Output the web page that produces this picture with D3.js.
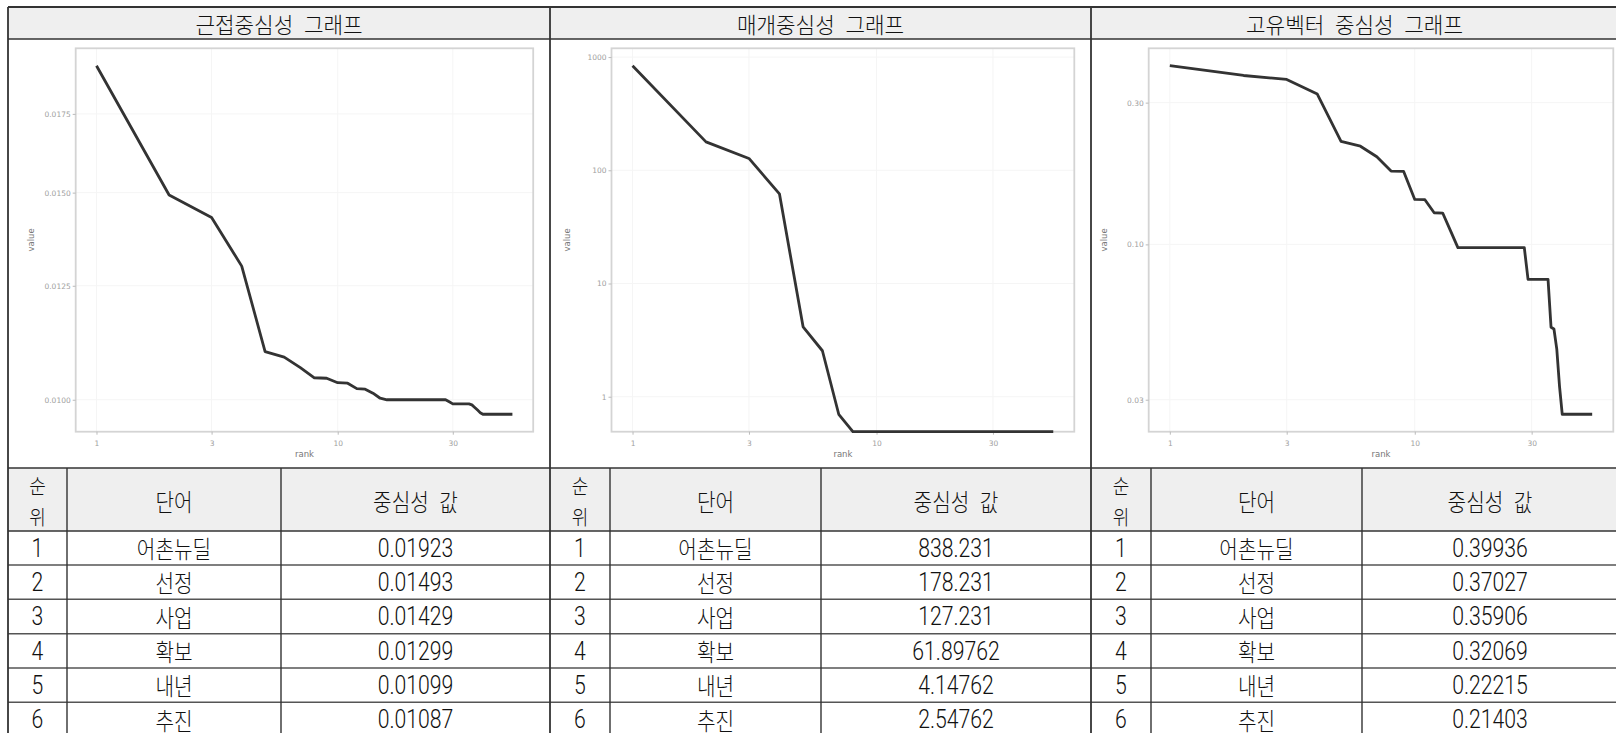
<!DOCTYPE html>
<html><head><meta charset="utf-8">
<script src="https://cdn.jsdelivr.net/npm/d3@7"></script>
<style>html,body{margin:0;padding:0;background:#fff;overflow:hidden}svg{display:block}</style>
</head><body><svg id="c" width="1616" height="733"></svg>
<script>
// ---------------- data ----------------
const ranks = d3.range(1, 54);
const closeness = [0.01923,0.01493,0.01429,0.01299,0.01099,0.01087,0.01065,0.01044,0.01043,0.01034,
  0.01033,0.01022,0.01021,0.01013,0.01003,0.01000,0.01000,0.01000,0.01000,0.01000,
  0.01000,0.01000,0.01000,0.01000,0.01000,0.01000,0.01000,0.01000,0.00996,0.00992,
  0.00992,0.00992,0.00992,0.00992,0.00992,0.00990,0.00985,0.00980,0.00975,0.00972,
  0.00972,0.00972,0.00972,0.00972,0.00972,0.00972,0.00972,0.00972,0.00972,0.00972,
  0.00972,0.00972,0.00972];
const betweenness = [838.231,178.231,127.231,61.89762,4.14762,2.54762,0.7,0,0,0,
  0,0,0,0,0,0,0,0,0,0, 0,0,0,0,0,0,0,0,0,0, 0,0,0,0,0,0,0,0,0,0,
  0,0,0,0,0,0,0,0,0,0, 0,0,0];
const eigenvector = [0.39936,0.37027,0.35906,0.32069,0.22215,0.21403,0.1973,0.1765,0.1762,0.1417,
  0.1414,0.1278,0.1275,0.1110,0.0975,0.0975,0.0975,0.0975,0.0975,0.0975,
  0.0975,0.0975,0.0975,0.0975,0.0975,0.0975,0.0975,0.0975,0.0762,0.0762,
  0.0762,0.0762,0.0762,0.0762,0.0762,0.0526,0.0519,0.0444,0.0332,0.0268,
  0.0268,0.0268,0.0268,0.0268,0.0268,0.0268,0.0268,0.0268,0.0268,0.0268,
  0.0268,0.0268,0.0268];
const words = ["어촌뉴딜","선정","사업","확보","내년","추진"];
const tableRanks = [1,2,3,4,5,6];
const panelTitles = ["근접중심성 그래프","매개중심성 그래프","고유벡터 중심성 그래프"];
const headerLabels = [["순","위"],["단어"],["중심성 값"]];
const xTicks = [1,3,10,30];
const closenessTicks = [0.0100,0.0125,0.0150,0.0175];
const betweennessTicks = [1,10,100,1000];
const eigenTicks = [0.03,0.10,0.30];
const xLabel = "rank", yLabel = "value";

// ---------------- layout ----------------
const svg = d3.select("#c");
const KR = "'Noto Sans CJK KR','Noto Sans',sans-serif";
const NUMF = "Roboto,'Liberation Sans',sans-serif";
const cols = [[8,67,281,550],[550,610,821,1091],[1091,1151,1362,1618]];
const rowTitle = [7,39], rowChart = [39,468], rowHead = [468,531];
const dataRowY = [531,565,599.3,633.7,668,702.3,736.6];
const plots = [{l:75.7,r:533.2},{l:611.5,r:1074.3},{l:1148.7,r:1613.3}];
const plotTop = 48.3, plotBottom = 431.7;

const series = [
  {values: closeness, ticks: closenessTicks, fmt: d3.format(".4f")},
  {values: betweenness, ticks: betweennessTicks, fmt: d3.format("d")},
  {values: eigenvector, ticks: eigenTicks, fmt: d3.format(".2f")}
];

// backgrounds
svg.append("rect").attr("x",8).attr("y",rowTitle[0]).attr("width",1610).attr("height",rowTitle[1]-rowTitle[0]).attr("fill","#efefef");
svg.append("rect").attr("x",8).attr("y",rowHead[0]).attr("width",1610).attr("height",rowHead[1]-rowHead[0]).attr("fill","#efefef");

function ktext(g, str, x, y, size, sx, ws, fam){
  g.append("text").attr("transform",`translate(${x},${y}) scale(${sx},1)`)
    .attr("text-anchor","middle").attr("dominant-baseline","central")
    .attr("font-family",fam||KR).attr("font-weight",300).attr("font-size",size)
    .attr("word-spacing", ws||0).attr("fill","#111").text(str);
}
const KS = 23.5, KSX = 0.86;   // hangul text
const NS = 26.5, NSX = 0.80;   // numeric text

// charts
series.forEach((s,i)=>{
  const c = cols[i], p = plots[i];
  const g = svg.append("g");
  ktext(g, panelTitles[i], (c[0]+c[3])/2, (rowTitle[0]+rowTitle[1])/2+0.5, 21.5, 0.99, 6);

  const L = Math.log10(d3.max(ranks));
  const x = d3.scaleLog().domain([Math.pow(10,-0.05*L), Math.pow(10,1.05*L)]).range([p.l,p.r]);
  const pos = s.values.filter(v=>v>0);
  const lo = Math.log10(d3.min(pos)), hi = Math.log10(d3.max(pos)), e = (hi-lo)*0.05;
  const y = d3.scaleLog().domain([Math.pow(10,lo-e), Math.pow(10,hi+e)]).range([plotBottom,plotTop]);
  const yy = v => v>0 ? y(v) : y.range()[0];

  // grid (very faint)
  const grid = g.append("g").attr("stroke","#f5f5f5").attr("stroke-width",1);
  xTicks.forEach(t=>grid.append("line").attr("x1",x(t)).attr("x2",x(t)).attr("y1",plotTop).attr("y2",plotBottom));
  s.ticks.forEach(t=>grid.append("line").attr("x1",p.l).attr("x2",p.r).attr("y1",y(t)).attr("y2",y(t)));

  g.append("rect").attr("x",p.l).attr("y",plotTop).attr("width",p.r-p.l).attr("height",plotBottom-plotTop)
    .attr("fill","none").attr("stroke","#d4d4d4").attr("stroke-width",1.8);

  const xAxis = d3.axisBottom(x).tickValues(xTicks).tickFormat(d3.format("d")).tickSize(3).tickPadding(6);
  const yAxis = d3.axisLeft(y).tickValues(s.ticks).tickFormat(s.fmt).tickSize(3).tickPadding(2);
  const ax = g.append("g").attr("transform",`translate(0,${plotBottom})`).call(xAxis);
  const ay = g.append("g").attr("transform",`translate(${p.l},0)`).call(yAxis);
  [ax,ay].forEach(a=>{
    a.select(".domain").remove();
    a.selectAll("line").attr("stroke","#bbb");
    a.selectAll("text").attr("fill","#a0a0a0").attr("font-size",7.5).attr("font-family","'DejaVu Sans',sans-serif");
  });
  g.append("text").attr("x",(p.l+p.r)/2).attr("y",457).attr("text-anchor","middle")
    .attr("font-family","'DejaVu Sans',sans-serif").attr("font-size",8.5).attr("fill","#777").text(xLabel);
  g.append("text").attr("transform",`translate(${p.l-42},${(plotTop+plotBottom)/2}) rotate(-90)`).attr("text-anchor","middle")
    .attr("font-family","'DejaVu Sans',sans-serif").attr("font-size",8.5).attr("fill","#777").text(yLabel);

  const line = d3.line().x((d,k)=>x(ranks[k])).y(d=>yy(d));
  g.append("path").datum(s.values).attr("d",line).attr("fill","none")
    .attr("stroke","#333").attr("stroke-width",2.8).attr("stroke-linejoin","round");

  // table header
  const hx = [(c[0]+c[1])/2,(c[1]+c[2])/2,(c[2]+c[3])/2];
  ktext(g, headerLabels[0][0], hx[0], 485.5, 20.5, 0.88);
  ktext(g, headerLabels[0][1], hx[0], 516.5, 20.5, 0.88);
  ktext(g, headerLabels[1][0], hx[1], 501, KS, KSX);
  ktext(g, headerLabels[2][0], hx[2], 501, KS, KSX, 7);
  tableRanks.forEach((r,k)=>{
    const cy = (dataRowY[k]+dataRowY[k+1])/2;
    ktext(g, String(r), hx[0], cy, NS, NSX, 0, NUMF);
    ktext(g, words[k], hx[1], cy, KS, KSX);
    ktext(g, String(s.values[r-1]), hx[2], cy, NS, NSX, 0, NUMF);
  });
});

// table lines
const lines = svg.append("g").attr("stroke","#333");
[rowTitle[0], rowTitle[1], rowChart[1], rowHead[1]].forEach((yv,k)=>{
  lines.append("line").attr("x1",8).attr("x2",1618).attr("y1",yv).attr("y2",yv).attr("stroke-width",k===0?2.2:1.6);
});
dataRowY.slice(1).forEach(yv=>{
  lines.append("line").attr("x1",8).attr("x2",1618).attr("y1",yv).attr("y2",yv).attr("stroke","#555").attr("stroke-width",1.4);
});
cols.forEach(c=>{
  lines.append("line").attr("x1",c[0]).attr("x2",c[0]).attr("y1",rowTitle[0]).attr("y2",740).attr("stroke-width",1.8);
  [c[1],c[2]].forEach(xv=>lines.append("line").attr("x1",xv).attr("x2",xv).attr("y1",rowHead[0]).attr("y2",740).attr("stroke-width",1.4));
});
</script></body></html>
